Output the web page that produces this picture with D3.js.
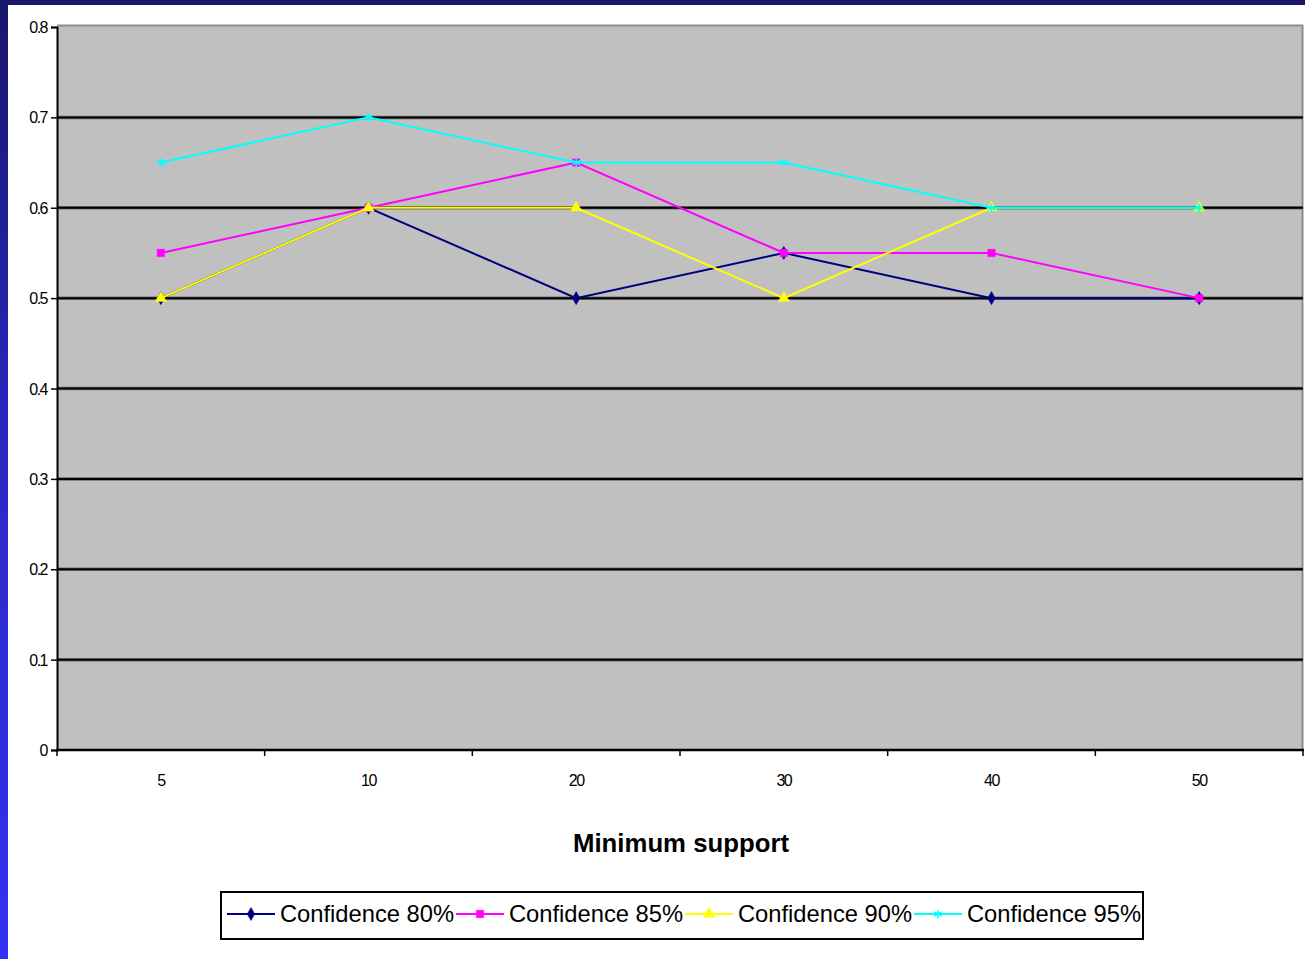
<!DOCTYPE html>
<html>
<head>
<meta charset="utf-8">
<script src="https://cdn.jsdelivr.net/npm/d3@7"></script>
<style>
  html, body { margin: 0; padding: 0; background: #fff; }
  svg { display: block; }
</style>
</head>
<body>
<svg id="chart" width="1305" height="959"></svg>
<script>
// Minimum support levels (category axis)
const categories = ["5", "10", "20", "30", "40", "50"];
// Series names
const seriesNames = ["Confidence 80%", "Confidence 85%", "Confidence 90%", "Confidence 95%"];
// Values per series
const conf80 = [0.5, 0.6, 0.5, 0.55, 0.5, 0.5];
const conf85 = [0.55, 0.6, 0.65, 0.55, 0.55, 0.5];
const conf90 = [0.5, 0.6, 0.6, 0.5, 0.6, 0.6];
const conf95 = [0.65, 0.7, 0.65, 0.65, 0.6, 0.6];
// Y tick labels
const yTicks = [0, 0.1, 0.2, 0.3, 0.4, 0.5, 0.6, 0.7, 0.8];

const seriesValues = [conf80, conf85, conf90, conf95];
const colors = ["#000080", "#ff00ff", "#ffff00", "#00ffff"];
const symbols = [d3.symbolDiamond, d3.symbolSquare, d3.symbolTriangle, d3.symbolAsterisk];
const symbolSizes = [50, 55, 55, 50];

const svg = d3.select("#chart");
const W = 1305, H = 959;
const plot = { left: 57, top: 25, right: 1303, bottom: 750 };

// Slide frame: dark band on top, blue band at the left
const defs = svg.append("defs");
const grad = defs.append("linearGradient").attr("id", "sideband")
  .attr("x1", 0).attr("y1", 0).attr("x2", 0).attr("y2", 1);
grad.append("stop").attr("offset", 0).attr("stop-color", "#17166b");
grad.append("stop").attr("offset", 0.45).attr("stop-color", "#2a28c0");
grad.append("stop").attr("offset", 1).attr("stop-color", "#3331f2");
svg.append("rect").attr("x", 0).attr("y", 0).attr("width", W).attr("height", 5).attr("fill", "#17166b");
svg.append("rect").attr("x", 0).attr("y", 0).attr("width", 8).attr("height", H).attr("fill", "url(#sideband)");

const x = d3.scaleBand().domain(categories).range([plot.left, plot.right]);
const y = d3.scaleLinear().domain([0, 0.8]).range([plot.bottom, plot.top + 2]);

// Plot area
svg.append("rect")
  .attr("x", plot.left).attr("y", plot.top)
  .attr("width", plot.right - plot.left).attr("height", plot.bottom - plot.top)
  .attr("fill", "#c0c0c0");
// Plot area border (top and right)
svg.append("path")
  .attr("d", `M${plot.left},${plot.top + 0.5}H${plot.right - 0.5}V${plot.bottom}`)
  .attr("fill", "none").attr("stroke", "#8c8c8c").attr("stroke-width", 2);

// Horizontal gridlines
const grid = svg.append("g");
yTicks.filter(v => v > 0 && v < 0.8).forEach(v => {
  grid.append("line")
    .attr("x1", plot.left).attr("x2", plot.right)
    .attr("y1", y(v)).attr("y2", y(v))
    .attr("stroke", "#707070").attr("stroke-width", 3.5);
  grid.append("line")
    .attr("x1", plot.left).attr("x2", plot.right)
    .attr("y1", y(v)).attr("y2", y(v))
    .attr("stroke", "#000").attr("stroke-width", 2);
});

// Y axis
const yAxis = svg.append("g").attr("transform", `translate(${plot.left},0)`)
  .call(d3.axisLeft(y).tickValues(yTicks).tickSize(6).tickPadding(4).tickFormat(d3.format(".1~f")));
yAxis.select(".domain").attr("stroke", "#000").attr("stroke-width", 2);
yAxis.selectAll(".tick line").attr("stroke", "#000").attr("stroke-width", 1.5);
yAxis.selectAll(".tick text")
  .attr("font-family", "Liberation Sans, Arial, sans-serif")
  .attr("font-size", 16).attr("fill", "#000")
  .attr("letter-spacing", "-1.5px")
  .attr("dy", "0.35em");

// X axis: baseline, ticks at category boundaries, labels at centres
const xAxis = svg.append("g");
xAxis.append("line")
  .attr("x1", plot.left - 1).attr("x2", plot.right + 1)
  .attr("y1", plot.bottom).attr("y2", plot.bottom)
  .attr("stroke", "#000").attr("stroke-width", 2.5);
const edges = categories.map(c => x(c)).concat([x.range()[1]]);
edges.forEach(e => {
  xAxis.append("line")
    .attr("x1", e).attr("x2", e)
    .attr("y1", plot.bottom).attr("y2", plot.bottom + 6)
    .attr("stroke", "#000").attr("stroke-width", 1.5);
});
categories.forEach(c => {
  xAxis.append("text")
    .attr("x", x(c) + x.bandwidth() / 2).attr("y", 786)
    .attr("text-anchor", "middle")
    .attr("font-family", "Liberation Sans, Arial, sans-serif")
    .attr("font-size", 16).attr("letter-spacing", "-1.5px")
    .attr("fill", "#000")
    .text(c);
});

// X axis title
svg.append("text")
  .attr("x", 681).attr("y", 852)
  .attr("text-anchor", "middle")
  .attr("font-family", "Liberation Sans, Arial, sans-serif")
  .attr("font-weight", "bold").attr("font-size", 26)
  .attr("textLength", 216).attr("lengthAdjust", "spacingAndGlyphs")
  .attr("fill", "#000")
  .text("Minimum support");

// Series lines and markers
const cx = c => x(c) + x.bandwidth() / 2;
const line = d3.line().x((d, i) => cx(categories[i])).y(d => y(d));
seriesValues.forEach((vals, s) => {
  const g = svg.append("g");
  g.append("path")
    .datum(vals)
    .attr("d", line)
    .attr("fill", "none")
    .attr("stroke", colors[s])
    .attr("stroke-width", 2);
  g.selectAll("path.marker")
    .data(vals)
    .join("path")
    .attr("class", "marker")
    .attr("transform", (d, i) => `translate(${cx(categories[i])},${y(d)})`)
    .attr("d", d3.symbol().type(symbols[s]).size(symbolSizes[s]))
    .attr("fill", s === 3 ? "none" : colors[s])
    .attr("stroke", colors[s])
    .attr("stroke-width", s === 3 ? 1.5 : 0.5);
});

// Legend
const legend = svg.append("g");
legend.append("rect")
  .attr("x", 221).attr("y", 892)
  .attr("width", 922).attr("height", 47)
  .attr("fill", "#fff").attr("stroke", "#000").attr("stroke-width", 2);
const legendX = [227, 456, 685, 914];
seriesNames.forEach((name, s) => {
  const lx = legendX[s];
  const ly = 914;
  legend.append("line")
    .attr("x1", lx).attr("x2", lx + 48)
    .attr("y1", ly).attr("y2", ly)
    .attr("stroke", colors[s]).attr("stroke-width", 2);
  legend.append("path")
    .attr("transform", `translate(${lx + 24},${ly})`)
    .attr("d", d3.symbol().type(symbols[s]).size(symbolSizes[s]))
    .attr("fill", s === 3 ? "none" : colors[s])
    .attr("stroke", colors[s])
    .attr("stroke-width", s === 3 ? 1.5 : 0.5);
  legend.append("text")
    .attr("x", lx + 53).attr("y", ly + 8)
    .attr("font-family", "Liberation Sans, Arial, sans-serif")
    .attr("font-size", 24).attr("fill", "#000")
    .attr("textLength", 174).attr("lengthAdjust", "spacingAndGlyphs")
    .text(name);
});
</script>
</body>
</html>
